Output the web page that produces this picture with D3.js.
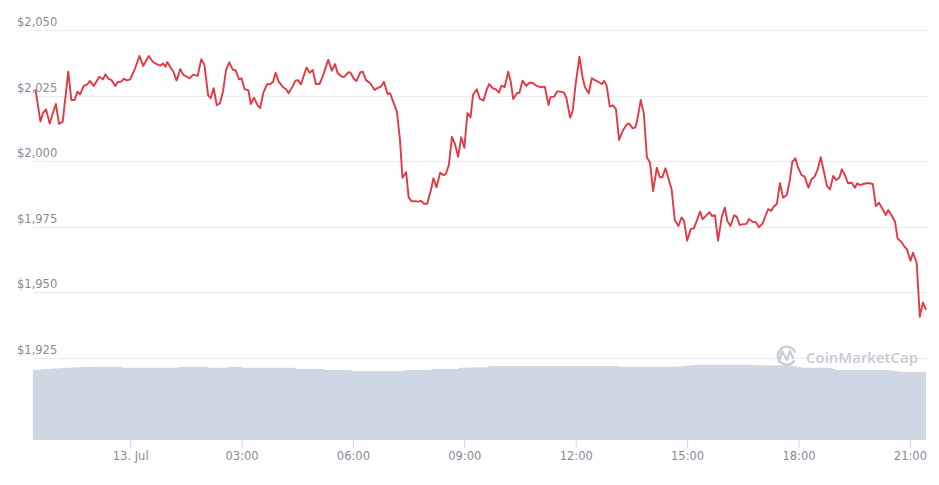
<!DOCTYPE html>
<html>
<head>
<meta charset="utf-8">
<script src="https://cdn.jsdelivr.net/npm/d3@7"></script>
<style>
  html, body { margin: 0; padding: 0; background: #fff; }
  svg { display: block; }
</style>
</head>
<body>
<div id="chart"></div>
<script>
// price samples, minutes from 13 Jul 00:00 (UTC)
const minutes = [
  -153,-145,-141,-136,-130,-125,-120,-115,-109,-100,
  -95,-90,-85,-81,-75,-69,-65,-59,-53,-50,
  -44,-40,-35,-30,-24,-20,-15,-10,-5,0,
  8,15,21,30,37,43,49,53,57,60,
  66,70,75,81,86,96,102,109,115,120,
  126,130,135,140,145,150,155,160,166,170,
  176,180,185,191,195,200,206,210,215,221,
  226,231,235,240,247,252,256,263,267,271,
  276,285,290,295,300,306,312,320,326,331,
  335,342,346,353,356,362,366,372,376,381,
  388,395,399,405,410,416,420,425,431,436,
  440,446,450,455,460,466,470,475,480,486,
  490,495,501,506,510,515,520,525,530,535,
  540,545,550,554,560,565,571,576,580,586,
  591,596,600,605,611,615,619,625,629,634,
  640,645,650,657,663,670,676,679,685,690,
  696,701,705,711,715,720,726,731,735,741,
  746,751,756,762,766,770,775,780,785,790,
  796,802,806,812,816,819,825,830,835,840,
  845,851,856,860,865,869,875,880,886,891,
  895,900,906,911,916,921,925,930,936,940,
  945,950,956,961,965,970,976,980,985,991,
  996,1000,1006,1011,1016,1022,1027,1031,1036,1040,
  1045,1050,1055,1061,1066,1070,1075,1079,1085,1090,
  1096,1101,1106,1111,1116,1121,1126,1131,1136,1141,
  1146,1150,1155,1160,1166,1171,1175,1179,1184,1190,
  1195,1200,1205,1210,1216,1221,1225,1230,1236,1240,
  1246,1252,1255,1261,1265,1271,1276,1281,1286
];
const prices = [
  2027.4,2015.1,2018.3,2019.8,2014.4,2018.3,2021.8,2014.2,2015.1,2034.1,
  2023.3,2023.3,2026.5,2025.5,2028.7,2029.3,2030.6,2028.7,2030.9,2032.2,
  2031.2,2033.1,2031.4,2030.9,2028.7,2030.2,2030.3,2031.4,2030.8,2031.2,
  2035.4,2040.1,2036.3,2040.1,2037.8,2037.0,2036.4,2037.3,2036.0,2037.8,
  2035.4,2034.1,2030.7,2035.1,2032.9,2031.6,2033.0,2032.5,2038.9,2036.7,
  2025.2,2024.0,2027.8,2021.3,2022.1,2026.5,2034.8,2037.7,2034.8,2034.8,
  2031.2,2031.6,2027.4,2027.1,2021.8,2024.2,2021.3,2020.2,2025.9,2029.3,
  2029.3,2030.3,2033.7,2030.3,2028.2,2027.4,2025.9,2028.7,2030.7,2030.9,
  2029.3,2035.7,2033.7,2034.8,2029.4,2029.4,2032.9,2038.6,2034.5,2037.0,
  2033.7,2032.2,2032.2,2033.9,2033.7,2031.2,2030.6,2033.9,2034.1,2030.9,
  2029.7,2027.1,2027.8,2028.4,2030.3,2025.6,2025.9,2022.7,2018.9,2008.1,
  1993.7,1995.8,1986.2,1984.7,1984.8,1984.6,1984.9,1983.8,1983.8,1989.0,
  1993.5,1990.1,1995.6,1994.7,1995.1,1998.6,2009.3,2006.4,2001.7,2009.1,
  2005.1,2018.3,2016.7,2025.2,2027.4,2023.8,2023.1,2027.1,2029.4,2027.8,
  2027.4,2026.1,2028.8,2028.2,2034.1,2030.3,2023.7,2025.9,2026.1,2030.7,
  2028.7,2029.9,2029.9,2028.7,2028.2,2028.4,2021.4,2024.4,2024.6,2026.6,
  2026.5,2026.1,2024.0,2016.6,2019.1,2029.7,2039.8,2032.0,2028.2,2025.9,
  2031.6,2030.9,2030.3,2029.4,2030.6,2028.7,2020.8,2021.3,2019.8,2008.1,
  2011.6,2013.9,2014.4,2012.5,2012.8,2015.1,2023.3,2018.3,2001.5,1999.4,
  1988.6,1997.5,1993.9,1993.9,1997.3,1994.1,1989.2,1977.6,1975.3,1978.6,
  1977.3,1969.7,1974.2,1974.4,1977.6,1980.8,1977.9,1979.1,1980.6,1979.1,
  1979.4,1969.7,1978.9,1982.3,1977.2,1975.3,1979.4,1978.9,1975.7,1976.0,
  1976.1,1978.0,1976.9,1976.8,1974.8,1976.3,1979.4,1981.7,1981.1,1982.7,
  1983.7,1991.6,1986.1,1987.1,1992.8,1999.8,2001.1,1997.7,1994.7,1994.1,
  1989.9,1993.1,1994.1,1996.9,2001.5,1996.0,1990.5,1989.3,1994.4,1992.8,
  1993.7,1996.9,1994.7,1991.6,1991.8,1989.9,1991.6,1990.9,1991.3,1991.6,
  1991.6,1991.3,1982.9,1984.2,1981.7,1979.5,1981.4,1979.5,1976.9,1970.6,
  1969.3,1967.2,1966.5,1962.1,1965.1,1961.3,1940.7,1946.2,1943.3
];

// volume (bn USD) at the bottom
const volMinutes = [-157,-102,-60,-16,-10,76,81,124,129,157,160,178,183,263,270,312,318,355,360,441,
  446,485,489,528,533,577,581,787,791,883,916,1006,1011,1066,1087,1131,1142,1223,1248,1286];
const volValues = [17.5,18.08,18.33,18.33,18.08,18.08,18.33,18.33,18.08,18.08,18.33,18.33,18.08,18.08,17.75,17.75,17.5,17.5,17.25,17.25,
  17.5,17.5,17.75,17.75,18.08,18.18,18.5,18.5,18.33,18.33,18.83,18.83,18.68,18.68,18.08,18.08,17.5,17.5,17.0,17.0];

const yTicks = [1925, 1950, 1975, 2000, 2025, 2050];
const xDomainMinutes = [-157, 1286];

let w = 939, h = 485;
let left = 33, right = 926;
let base = Date.UTC(2021, 6, 13);
let toDate = (m) => new Date(base + m * 60000);

let svg = d3.select('#chart').append('svg')
    .attr('width', w).attr('height', h)
    .style('font-family', '"DejaVu Sans", sans-serif');

let x = d3.scaleUtc().domain(xDomainMinutes.map(toDate)).range([left, right]);
let y = d3.scaleLinear().domain([1925, 2050]).range([358, 30]);
let yVol = d3.scaleLinear().domain([0, 20]).range([440, 360]);

//grid lines
svg.append('g').selectAll('line').data(yTicks).join('line')
    .attr('x1', left).attr('x2', 928)
    .attr('y1', d => Math.round(y(d)) + 0.5).attr('y2', d => Math.round(y(d)) + 0.5)
    .attr('stroke', '#e9ecf1').attr('stroke-width', 1);

//volume band
let volData = volMinutes.map((m, i) => ({t: toDate(m), v: volValues[i]}));
svg.append('path').datum(volData)
    .attr('fill', '#cfd6e4')
    .attr('d', d3.area().x(d => x(d.t)).y0(yVol(0)).y1(d => yVol(d.v)));

//watermark
let wm = svg.append('g').attr('fill', 'none').attr('stroke', '#c7ccd5');
wm.append('path')
    .attr('stroke-width', 2.2).attr('stroke-linecap', 'round').attr('stroke-linejoin', 'round')
    .attr('d', 'M795,352 A9,9 0 1 0 794,361 M779,362 L782,351 L787,360 L790,351 L793,358');
svg.append('text').text('CoinMarketCap')
    .attr('x', 806).attr('y', 363)
    .attr('fill', '#c7ccd5')
    .style('font-family', '"Open Sans", sans-serif')
    .style('font-weight', 600).style('font-size', '15px');

//y labels
svg.append('g').selectAll('text').data(yTicks).join('text')
    .attr('x', 17).attr('y', d => y(d) - 4)
    .attr('fill', '#858b9c').style('font-size', '11.5px')
    .attr('stroke', '#fff').attr('stroke-width', 3).attr('paint-order', 'stroke')
    .text(d => '$' + d3.format(',')(d));

//x axis
let xAxis = d3.axisBottom(x)
    .ticks(d3.utcHour.every(3))
    .tickSize(8)
    .tickFormat(d => d.getUTCHours() === 0 ? '13. Jul' : d3.utcFormat('%H:%M')(d));
let gx = svg.append('g').attr('transform', 'translate(0,440)').call(xAxis);
gx.select('.domain').remove();
gx.selectAll('.tick line').attr('stroke', '#ccd6eb');
gx.selectAll('.tick text')
    .attr('y', 12).attr('dy', '0.71em')
    .attr('fill', '#858b9c')
    .style('font-size', '11.5px').style('font-family', '"DejaVu Sans", sans-serif');

//price line
let priceData = minutes.map((m, i) => ({t: toDate(m), p: prices[i]}));
svg.append('path').datum(priceData)
    .attr('fill', 'none').attr('stroke', '#e23a45').attr('stroke-width', 1.9)
    .attr('stroke-linejoin', 'round')
    .attr('d', d3.line().x(d => x(d.t)).y(d => y(d.p)));
</script>
</body>
</html>
